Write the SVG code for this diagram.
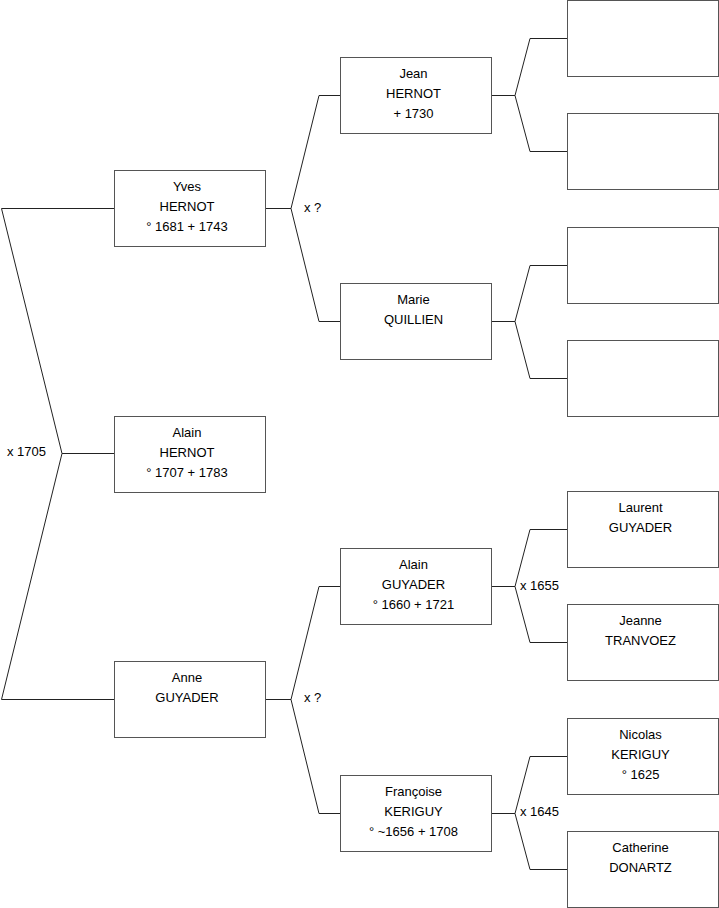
<svg xmlns="http://www.w3.org/2000/svg" width="719" height="908" viewBox="0 0 719 908">
<style>
.box{fill:#fff;stroke:#555;stroke-width:1}
.ln{fill:none;stroke:#222;stroke-width:1}
text{font-family:"Liberation Sans",Arial,sans-serif;font-size:13px;fill:#000}
.c{text-anchor:middle}
</style>
<rect width="719" height="908" fill="#fff"/>
<g id="connectors">
<path class="ln" d="M114,208.5H1.5L62,453.5L1.5,699.5H114M62,453.5H114"/>
<path class="ln" d="M265,208.5H291L319,95.5H340M291,208.5L319,321.5H340"/>
<path class="ln" d="M265,699.5H291L319,586.5H340M291,699.5L319,813.5H340"/>
<path class="ln" d="M491,95.5H515L530,38.5H567M515,95.5L530,151.5H567"/>
<path class="ln" d="M491,321.5H515L530,265.5H567M515,321.5L530,378.5H567"/>
<path class="ln" d="M491,586.5H515L530,529.5H567M515,586.5L530,642.5H567"/>
<path class="ln" d="M491,813.5H515L530,756.5H567M515,813.5L530,869.5H567"/>
<text x="7" y="456">x 1705</text>
<text x="304" y="212">x ?</text>
<text x="304" y="702">x ?</text>
<text x="520" y="590">x 1655</text>
<text x="520" y="816">x 1645</text>
</g>
<g id="yves"><rect class="box" x="114.5" y="170.5" width="151" height="76"/><text class="c" x="187" y="191">Yves</text><text class="c" x="187" y="211">HERNOT</text><text class="c" x="187" y="231">° 1681 + 1743</text></g>
<g id="alain-hernot"><rect class="box" x="114.5" y="416.5" width="151" height="76"/><text class="c" x="187" y="437">Alain</text><text class="c" x="187" y="457">HERNOT</text><text class="c" x="187" y="477">° 1707 + 1783</text></g>
<g id="anne"><rect class="box" x="114.5" y="661.5" width="151" height="76"/><text class="c" x="187" y="682">Anne</text><text class="c" x="187" y="702">GUYADER</text></g>
<g id="jean"><rect class="box" x="340.5" y="57.5" width="151" height="76"/><text class="c" x="413.5" y="78">Jean</text><text class="c" x="413.5" y="98">HERNOT</text><text class="c" x="413.5" y="118">+ 1730</text></g>
<g id="marie"><rect class="box" x="340.5" y="283.5" width="151" height="76"/><text class="c" x="413.5" y="304">Marie</text><text class="c" x="413.5" y="324">QUILLIEN</text></g>
<g id="alain-guyader"><rect class="box" x="340.5" y="548.5" width="151" height="76"/><text class="c" x="413.5" y="569">Alain</text><text class="c" x="413.5" y="589">GUYADER</text><text class="c" x="413.5" y="609">° 1660 + 1721</text></g>
<g id="francoise"><rect class="box" x="340.5" y="775.5" width="151" height="76"/><text class="c" x="413.5" y="796">Françoise</text><text class="c" x="413.5" y="816">KERIGUY</text><text class="c" x="413.5" y="836">° ~1656 + 1708</text></g>
<g id="p1"><rect class="box" x="567.5" y="0.5" width="151" height="76"/></g>
<g id="p2"><rect class="box" x="567.5" y="113.5" width="151" height="76"/></g>
<g id="p3"><rect class="box" x="567.5" y="227.5" width="151" height="76"/></g>
<g id="p4"><rect class="box" x="567.5" y="340.5" width="151" height="76"/></g>
<g id="laurent"><rect class="box" x="567.5" y="491.5" width="151" height="76"/><text class="c" x="640.5" y="512">Laurent</text><text class="c" x="640.5" y="532">GUYADER</text></g>
<g id="jeanne"><rect class="box" x="567.5" y="604.5" width="151" height="76"/><text class="c" x="640.5" y="625">Jeanne</text><text class="c" x="640.5" y="645">TRANVOEZ</text></g>
<g id="nicolas"><rect class="box" x="567.5" y="718.5" width="151" height="76"/><text class="c" x="640.5" y="739">Nicolas</text><text class="c" x="640.5" y="759">KERIGUY</text><text class="c" x="640.5" y="779">° 1625</text></g>
<g id="catherine"><rect class="box" x="567.5" y="831.5" width="151" height="76"/><text class="c" x="640.5" y="852">Catherine</text><text class="c" x="640.5" y="872">DONARTZ</text></g>
</svg>
